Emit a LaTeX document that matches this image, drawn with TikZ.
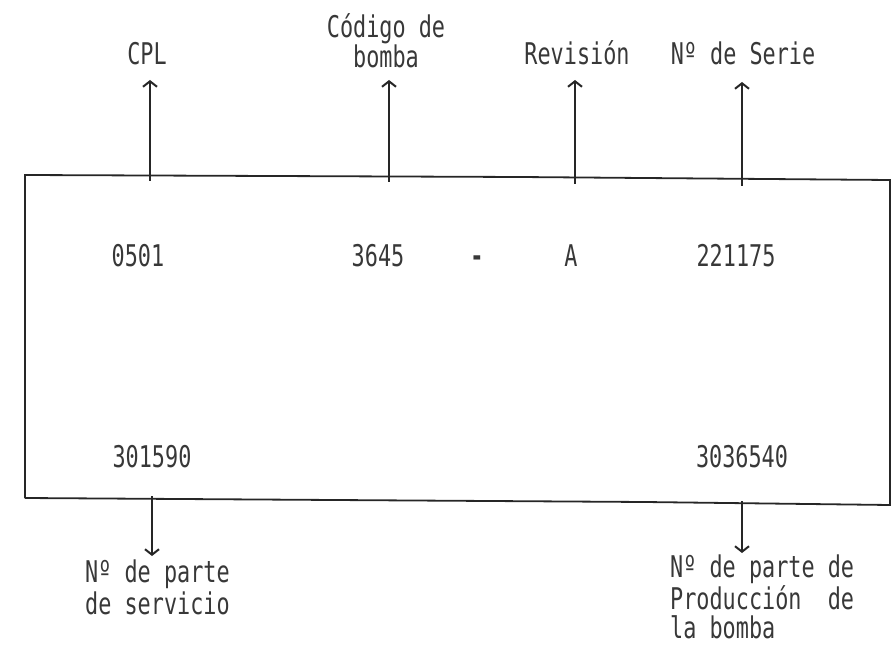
\documentclass[tikz,border=0pt]{standalone}
\usepackage{fontspec}
\setmainfont{DejaVu Sans Mono}[FakeStretch=0.73]
\usetikzlibrary{arrows.meta}
\begin{document}
\begin{tikzpicture}[x=1bp,y=-1bp,
  txt/.style={inner sep=0pt,anchor=base,font=\fontsize{30}{32}\selectfont,text=black!78},
  lbl/.style={txt,align=left},
  conn/.style={line width=1.8bp,black!85,-{Straight Barb[length=5.5bp,width=14bp,line width=2bp]}},
  frame/.style={line width=1.8bp,black!85}]
\useasboundingbox (0,0) rectangle (894,646);
\draw[frame] (25,498) -- (25,175) -- (520,177) -- (890,180) -- (890,505) -- (645,502) -- (25,498);
% top labels
\node[txt] (cpl) at (147,65) {CPL};
\node[txt,anchor=north,align=center,font=\fontsize{30}{27}\selectfont] (cod) at (386,13) {Código de\\bomba};
\node[txt] (rev) at (577,65) {Revisión};
\node[txt] (ser) at (743,65) {Nº de Serie};
% numbers
\node[txt] (n1) at (138,267) {0501};
\node[txt] (n2) at (378,267) {3645};
\node[txt,font=\fontsize{30}{32}\bfseries] (dash) at (477,267) {-};
\node[txt] (n3) at (571,267) {A};
\node[txt] (n4) at (736,267) {221175};
\node[txt] (n5) at (152,467) {301590};
\node[txt] (n6) at (742,467) {3036540};
% bottom labels
\node[lbl,anchor=north west] (sv) at (85,560) {Nº de parte\\de servicio};
\node[lbl,anchor=north west,font=\fontsize{30}{29.5}\selectfont] (pr) at (670,555) {Nº de parte de\\Producción~ de\\la bomba};
% anchor points on frame
\coordinate (t1) at (150,181);
\coordinate (t2) at (389,182);
\coordinate (t3) at (575,184);
\coordinate (t4) at (742,186);
\coordinate (b1) at (152,496);
\coordinate (b2) at (742,501);
\coordinate (a1) at (150,80);
\coordinate (a2) at (389,80);
\coordinate (a3) at (575,80);
\coordinate (a4) at (742,82);
\coordinate (d1) at (152,556);
\coordinate (d2) at (742,553);
\draw[conn] (t1) -- (a1);
\draw[conn] (t2) -- (a2);
\draw[conn] (t3) -- (a3);
\draw[conn] (t4) -- (a4);
\draw[conn] (b1) -- (d1);
\draw[conn] (b2) -- (d2);
\end{tikzpicture}
\end{document}
